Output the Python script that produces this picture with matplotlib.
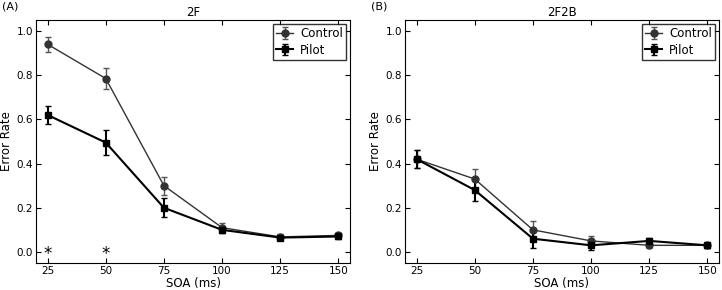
import matplotlib
matplotlib.use("Agg")
import matplotlib.pyplot as plt

soa = [25, 50, 75, 100, 125, 150]

# panel A (2F)
ctrl_a = [0.94, 0.785, 0.30, 0.11, 0.068, 0.075]
ctrl_a_err = [0.035, 0.048, 0.04, 0.02, 0.012, 0.012]
pilot_a = [0.62, 0.495, 0.20, 0.10, 0.065, 0.07]
pilot_a_err = [0.04, 0.055, 0.042, 0.015, 0.01, 0.01]
signif_a = [25, 50]

# panel B (2F2B)
ctrl_b = [0.42, 0.33, 0.10, 0.05, 0.03, 0.03]
ctrl_b_err = [0.04, 0.045, 0.04, 0.02, 0.01, 0.01]
pilot_b = [0.42, 0.28, 0.06, 0.03, 0.05, 0.03]
pilot_b_err = [0.04, 0.05, 0.04, 0.02, 0.012, 0.01]

plt.rcParams['font.size'] = 7.5
plt.rcParams['xtick.direction'] = 'in'
plt.rcParams['ytick.direction'] = 'in'
plt.rcParams['xtick.top'] = True
plt.rcParams['ytick.right'] = True
plt.rcParams['xtick.major.pad'] = 2
plt.rcParams['ytick.major.pad'] = 2

fig = plt.figure(figsize=(7.22, 2.9), dpi=100)
ax1 = fig.add_axes([36/722, 1-263/290, 314/722, 243/290])
ax2 = fig.add_axes([405/722, 1-263/290, 314/722, 243/290])


def draw(ax, ctrl, ctrl_err, pilot, pilot_err, title, tag):
    ax.errorbar(soa, ctrl, yerr=ctrl_err, color='#333333', ecolor='#555555',
                marker='o', markersize=5, linewidth=1, capsize=2, label='Control')
    ax.errorbar(soa, pilot, yerr=pilot_err, color='black', ecolor='black',
                marker='s', markersize=5, linewidth=1.5, capsize=2, label='Pilot')
    ax.set_xlim(20, 155)
    ax.set_ylim(-0.05, 1.05)
    ax.set_xticks(soa)
    ax.set_yticks([0.0, 0.2, 0.4, 0.6, 0.8, 1.0])
    ax.set_yticklabels(['0.0', '0.2', '0.4', '0.6', '0.8', '1.0'])
    ax.set_xlabel('SOA (ms)', fontsize=8.5, labelpad=1)
    ax.set_ylabel('Error Rate', fontsize=8.5, labelpad=3)
    ax.set_title(title, fontsize=8.5, pad=3)
    ax.text(-34/314, 1 + 11/243, tag, transform=ax.transAxes, fontsize=8)
    leg = ax.legend(loc='upper right', fontsize=8.5, fancybox=False,
                    handlelength=1.4, borderaxespad=0.3, borderpad=0.3,
                    labelspacing=0.3, handletextpad=0.6)
    leg.get_frame().set_edgecolor('black')
    leg.get_frame().set_linewidth(1)


draw(ax1, ctrl_a, ctrl_a_err, pilot_a, pilot_a_err, '2F', '(A)')
draw(ax2, ctrl_b, ctrl_b_err, pilot_b, pilot_b_err, '2F2B', '(B)')

for x in signif_a:
    ax1.text(x, -0.01, '*', ha='center', va='center', fontsize=12)

fig.savefig('out.png', dpi=100)
